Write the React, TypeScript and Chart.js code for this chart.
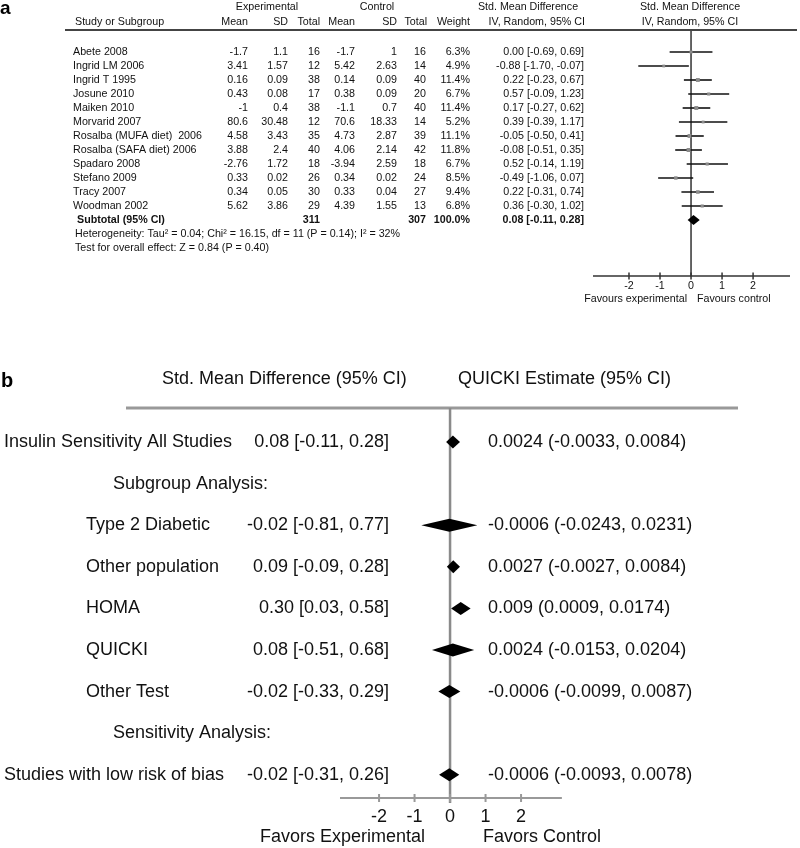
import React, { useEffect, useRef } from "react";
import { Chart, registerables } from "chart.js";
Chart.register(...registerables);

// ---------- Panel a data ----------
const studies = [
  "Abete 2008",
  "Ingrid LM 2006",
  "Ingrid T 1995",
  "Josune 2010",
  "Maiken 2010",
  "Morvarid 2007",
  "Rosalba (MUFA diet)  2006",
  "Rosalba (SAFA diet) 2006",
  "Spadaro 2008",
  "Stefano 2009",
  "Tracy 2007",
  "Woodman 2002",
];
const expMean = [-1.7, 3.41, 0.16, 0.43, -1, 80.6, 4.58, 3.88, -2.76, 0.33, 0.34, 5.62];
const expSD = [1.1, 1.57, 0.09, 0.08, 0.4, 30.48, 3.43, 2.4, 1.72, 0.02, 0.05, 3.86];
const expTotal = [16, 12, 38, 17, 38, 12, 35, 40, 18, 26, 30, 29];
const ctlMean = [-1.7, 5.42, 0.14, 0.38, -1.1, 70.6, 4.73, 4.06, -3.94, 0.34, 0.33, 4.39];
const ctlSD = [1, 2.63, 0.09, 0.09, 0.7, 18.33, 2.87, 2.14, 2.59, 0.02, 0.04, 1.55];
const ctlTotal = [16, 14, 40, 20, 40, 14, 39, 42, 18, 24, 27, 13];
const weights = [6.3, 4.9, 11.4, 6.7, 11.4, 5.2, 11.1, 11.8, 6.7, 8.5, 9.4, 6.8];
const smd = [0.0, -0.88, 0.22, 0.57, 0.17, 0.39, -0.05, -0.08, 0.52, -0.49, 0.22, 0.36];
const smdLo = [-0.69, -1.7, -0.23, -0.09, -0.27, -0.39, -0.5, -0.51, -0.14, -1.06, -0.31, -0.3];
const smdHi = [0.69, -0.07, 0.67, 1.23, 0.62, 1.17, 0.41, 0.35, 1.19, 0.07, 0.74, 1.02];
const subtotalExpN = 311;
const subtotalCtlN = 307;
const subtotalWeight = 100.0;
const subtotalEst = 0.08;
const subtotalLo = -0.11;
const subtotalHi = 0.28;
const heterogeneityText = "Heterogeneity: Tau\u00b2 = 0.04; Chi\u00b2 = 16.15, df = 11 (P = 0.14); I\u00b2 = 32%";
const overallText = "Test for overall effect: Z = 0.84 (P = 0.40)";
const axisTicksA = [-2, -1, 0, 1, 2];

// ---------- Panel b data ----------
const bLabels = [
  "Insulin Sensitivity All Studies",
  "Subgroup Analysis:",
  "Type 2 Diabetic",
  "Other population",
  "HOMA",
  "QUICKI",
  "Other Test",
  "Sensitivity Analysis:",
  "Studies with low risk of bias",
];
const bIsHeading = [false, true, false, false, false, false, false, true, false];
const bIndent = [0, 2, 1, 1, 1, 1, 1, 2, 0];
const bEst = [0.08, null, -0.02, 0.09, 0.3, 0.08, -0.02, null, -0.02];
const bLo = [-0.11, null, -0.81, -0.09, 0.03, -0.51, -0.33, null, -0.31];
const bHi = [0.28, null, 0.77, 0.28, 0.58, 0.68, 0.29, null, 0.26];
const qEst = [0.0024, null, -0.0006, 0.0027, 0.009, 0.0024, -0.0006, null, -0.0006];
const qLo = [-0.0033, null, -0.0243, -0.0027, 0.0009, -0.0153, -0.0099, null, -0.0093];
const qHi = [0.0084, null, 0.0231, 0.0084, 0.0174, 0.0204, 0.0087, null, 0.0078];
const axisTicksB = [-2, -1, 0, 1, 2];

const SANS = '"Liberation Sans", Arial, Helvetica, sans-serif';
const fmt2 = (v: number) => v.toFixed(2);

const pluginA = {
  id: "panelA",
  beforeDatasetsDraw(chart: any) {
    const { ctx, scales, chartArea } = chart;
    const x = scales.x;
    ctx.save();
    ctx.strokeStyle = "#333";
    ctx.lineWidth = 1.5;
    const x0 = x.getPixelForValue(0);
    ctx.beginPath();
    ctx.moveTo(x0, chartArea.top);
    ctx.lineTo(x0, chartArea.bottom);
    ctx.stroke();
    ctx.beginPath();
    ctx.moveTo(chartArea.left, chartArea.bottom);
    ctx.lineTo(chartArea.right, chartArea.bottom);
    ctx.stroke();
    axisTicksA.forEach((t) => {
      const px = x.getPixelForValue(t);
      ctx.beginPath();
      ctx.moveTo(px, chartArea.bottom - 3.5);
      ctx.lineTo(px, chartArea.bottom + 3.5);
      ctx.stroke();
    });
    ctx.restore();
  },
  afterDraw(chart: any) {
    const { ctx, scales, chartArea } = chart;
    const x = scales.x;
    const y = scales.y;
    ctx.save();
    // panel letter
    ctx.fillStyle = "#000";
    ctx.font = `bold 19px ${SANS}`;
    ctx.textBaseline = "alphabetic";
    ctx.textAlign = "left";
    ctx.fillText("a", 0, 14);

    const f = `10.7px ${SANS}`;
    const fb = `bold 10.7px ${SANS}`;
    ctx.fillStyle = "#111";
    ctx.textBaseline = "middle";
    const txt = (s: string, px: number, py: number, align: CanvasTextAlign, bold = false) => {
      ctx.font = bold ? fb : f;
      ctx.textAlign = align;
      ctx.fillText(s, px, py);
    };
    // headers
    txt("Experimental", 267, 7, "center");
    txt("Control", 377, 7, "center");
    txt("Std. Mean Difference", 528, 7, "center");
    txt("Std. Mean Difference", 690, 7, "center");
    txt("Study or Subgroup", 75, 22, "left");
    txt("Mean", 248, 22, "right");
    txt("SD", 288, 22, "right");
    txt("Total", 320, 22, "right");
    txt("Mean", 355, 22, "right");
    txt("SD", 397, 22, "right");
    txt("Total", 427, 22, "right");
    txt("Weight", 470, 22, "right");
    txt("IV, Random, 95% CI", 585, 22, "right");
    txt("IV, Random, 95% CI", 690, 22, "center");
    // header rule
    ctx.strokeStyle = "#444";
    ctx.lineWidth = 2;
    ctx.beginPath();
    ctx.moveTo(65, 30);
    ctx.lineTo(797, 30);
    ctx.stroke();

    studies.forEach((s, i) => {
      const py = y.getPixelForValue(i);
      txt(s, 73, py, "left");
      txt(String(expMean[i]), 248, py, "right");
      txt(String(expSD[i]), 288, py, "right");
      txt(String(expTotal[i]), 320, py, "right");
      txt(String(ctlMean[i]), 355, py, "right");
      txt(String(ctlSD[i]), 397, py, "right");
      txt(String(ctlTotal[i]), 426, py, "right");
      txt(weights[i].toFixed(1) + "%", 470, py, "right");
      txt(`${fmt2(smd[i])} [${fmt2(smdLo[i])}, ${fmt2(smdHi[i])}]`, 584, py, "right");
    });
    const sy = y.getPixelForValue(studies.length);
    txt("Subtotal (95% CI)", 77, sy, "left", true);
    txt(String(subtotalExpN), 320, sy, "right", true);
    txt(String(subtotalCtlN), 426, sy, "right", true);
    txt(subtotalWeight.toFixed(1) + "%", 470, sy, "right", true);
    txt(`${fmt2(subtotalEst)} [${fmt2(subtotalLo)}, ${fmt2(subtotalHi)}]`, 584, sy, "right", true);
    txt(heterogeneityText, 75, y.getPixelForValue(studies.length + 1), "left");
    txt(overallText, 75, y.getPixelForValue(studies.length + 2), "left");

    // subtotal diamond
    ctx.fillStyle = "#000";
    ctx.beginPath();
    ctx.moveTo(x.getPixelForValue(subtotalLo), sy);
    ctx.lineTo(x.getPixelForValue(subtotalEst), sy - 5);
    ctx.lineTo(x.getPixelForValue(subtotalHi), sy);
    ctx.lineTo(x.getPixelForValue(subtotalEst), sy + 5);
    ctx.closePath();
    ctx.fill();

    // axis labels
    ctx.fillStyle = "#111";
    axisTicksA.forEach((t) => {
      txt(String(t), x.getPixelForValue(t), chartArea.bottom + 10, "center");
    });
    const x0 = x.getPixelForValue(0);
    txt("Favours experimental", x0 - 4, chartArea.bottom + 23, "right");
    txt("Favours control", x0 + 6, chartArea.bottom + 23, "left");
    ctx.restore();
  },
};

const pluginB = {
  id: "panelB",
  beforeDatasetsDraw(chart: any) {
    const { ctx, scales, chartArea } = chart;
    const x = scales.x;
    ctx.save();
    ctx.strokeStyle = "#999";
    ctx.lineWidth = 3;
    ctx.beginPath();
    ctx.moveTo(126, chartArea.top);
    ctx.lineTo(738, chartArea.top);
    ctx.stroke();
    ctx.strokeStyle = "#8a8a8a";
    ctx.lineWidth = 2.5;
    const x0 = x.getPixelForValue(0);
    ctx.beginPath();
    ctx.moveTo(x0, chartArea.top);
    ctx.lineTo(x0, chartArea.bottom + 5);
    ctx.stroke();
    ctx.strokeStyle = "#999";
    ctx.lineWidth = 2;
    ctx.beginPath();
    ctx.moveTo(chartArea.left, chartArea.bottom);
    ctx.lineTo(chartArea.right, chartArea.bottom);
    ctx.stroke();
    axisTicksB.forEach((t) => {
      const px = x.getPixelForValue(t);
      ctx.beginPath();
      ctx.moveTo(px, chartArea.bottom - 4);
      ctx.lineTo(px, chartArea.bottom + 4);
      ctx.stroke();
    });
    ctx.restore();
  },
  afterDraw(chart: any) {
    const { ctx, scales, chartArea } = chart;
    const x = scales.x;
    const y = scales.y;
    ctx.save();
    ctx.fillStyle = "#000";
    ctx.font = `bold 20px ${SANS}`;
    ctx.textAlign = "left";
    ctx.textBaseline = "alphabetic";
    ctx.fillText("b", 1, 57);

    ctx.font = `18px ${SANS}`;
    ctx.fillStyle = "#111";
    ctx.textBaseline = "middle";
    const txt = (s: string, px: number, py: number, align: CanvasTextAlign) => {
      ctx.textAlign = align;
      ctx.fillText(s, px, py);
    };
    txt("Std. Mean Difference (95% CI)", 162, 49, "left");
    txt("QUICKI Estimate (95% CI)", 458, 49, "left");
    const indentX = [4, 86, 113];
    bLabels.forEach((lab, i) => {
      const py = y.getPixelForValue(i);
      txt(lab, indentX[bIndent[i]], py, "left");
      if (!bIsHeading[i]) {
        txt(`${fmt2(bEst[i] as number)} [${fmt2(bLo[i] as number)}, ${fmt2(bHi[i] as number)}]`, 389, py, "right");
        txt(`${String(qEst[i])} (${String(qLo[i])}, ${String(qHi[i])})`, 488, py, "left");
        // diamond
        ctx.fillStyle = "#000";
        ctx.beginPath();
        ctx.moveTo(x.getPixelForValue(bLo[i]), py);
        ctx.lineTo(x.getPixelForValue(bEst[i]), py - 6.5);
        ctx.lineTo(x.getPixelForValue(bHi[i]), py);
        ctx.lineTo(x.getPixelForValue(bEst[i]), py + 6.5);
        ctx.closePath();
        ctx.fill();
        ctx.fillStyle = "#111";
      }
    });
    axisTicksB.forEach((t) => {
      txt(String(t), x.getPixelForValue(t), chartArea.bottom + 19, "center");
    });
    const x0 = x.getPixelForValue(0);
    txt("Favors Experimental", x0 - 25, chartArea.bottom + 39, "right");
    txt("Favors Control", x0 + 33, chartArea.bottom + 39, "left");
    ctx.restore();
  },
};

export default function App() {
  const refA = useRef<HTMLCanvasElement>(null);
  const refB = useRef<HTMLCanvasElement>(null);
  useEffect(() => {
    const chartA = new Chart(refA.current as HTMLCanvasElement, {
      type: "scatter",
      data: {
        datasets: [
          {
            type: "scatter",
            data: smd.map((v, i) => ({ x: v, y: i })),
            pointStyle: "rect",
            pointRadius: weights.map((w) => 1.4 + w * 0.12),
            backgroundColor: "#8c8c8c",
            borderColor: "#8c8c8c",
            borderWidth: 0,
            order: 0,
          } as any,
          ...studies.map(
            (_, i) =>
              ({
                type: "line",
                data: [
                  { x: smdLo[i], y: i },
                  { x: smdHi[i], y: i },
                ],
                borderColor: "#111",
                borderWidth: 1.6,
                pointRadius: 0,
                fill: false,
                showLine: true,
                order: 1,
              } as any)
          ),
        ],
      },
      options: {
        responsive: false,
        animation: false,
        devicePixelRatio: 1,
        events: [],
        layout: { padding: { left: 593, right: 10, top: 30, bottom: 54 } },
        scales: {
          x: { type: "linear", min: -3.16, max: 3.19, display: false },
          y: { type: "linear", min: -22 / 14, max: 16, reverse: true, display: false },
        },
        plugins: { legend: { display: false }, tooltip: { enabled: false } },
      },
      plugins: [pluginA],
    } as any);

    const chartB = new Chart(refB.current as HTMLCanvasElement, {
      type: "scatter",
      data: {
        datasets: [
          {
            data: bEst
              .map((v, i) => (v === null ? null : { x: v, y: i }))
              .filter((p) => p !== null),
            pointRadius: 0,
            backgroundColor: "#000",
          } as any,
        ],
      },
      options: {
        responsive: false,
        animation: false,
        devicePixelRatio: 1,
        events: [],
        layout: { padding: { left: 340, right: 238.125, top: 78, bottom: 50 } },
        scales: {
          x: { type: "linear", min: -3.1, max: 3.15, display: false },
          y: { type: "linear", min: -34 / 41.6, max: 356 / 41.6, reverse: true, display: false },
        },
        plugins: { legend: { display: false }, tooltip: { enabled: false } },
      },
      plugins: [pluginB],
    } as any);

    return () => {
      chartA.destroy();
      chartB.destroy();
    };
  }, []);

  return (
    <div style={{ position: "absolute", left: 0, top: 0, width: 800, height: 848, background: "#fff" }}>
      <canvas ref={refA} width={800} height={330} style={{ position: "absolute", left: 0, top: 0 }} />
      <canvas ref={refB} width={800} height={518} style={{ position: "absolute", left: 0, top: 330 }} />
    </div>
  );
}
